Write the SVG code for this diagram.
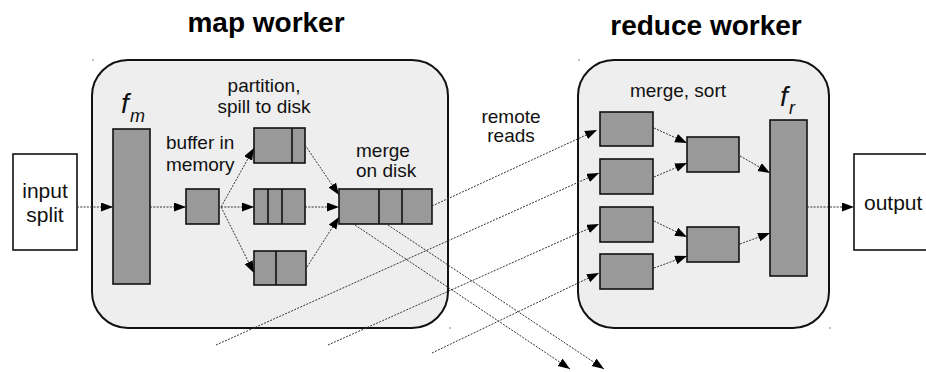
<svg xmlns="http://www.w3.org/2000/svg" width="926" height="372" viewBox="0 0 926 372">
  <defs>
    <marker id="arrow" markerUnits="userSpaceOnUse" markerWidth="13" markerHeight="10" refX="12" refY="4.5" orient="auto">
      <path d="M0,0 L12,4.5 L0,9 z" fill="#000"/>
    </marker>
    <style>
      .title { font-family: "Liberation Sans", Arial, sans-serif; font-weight: bold; font-size: 28px; fill: #000; }
      .lbl { font-family: "Liberation Sans", Arial, sans-serif; font-size: 19px; fill: #111; }
      .io { font-family: "Liberation Sans", Arial, sans-serif; font-size: 21px; fill: #111; }
      .fn { font-family: "Liberation Sans", Arial, sans-serif; font-style: italic; fill: #111; }
      .worker { fill: #eeeeee; stroke: #111; stroke-width: 2; }
      .blk { fill: #999999; stroke: #111; stroke-width: 1.6; }
      .div { stroke: #111; stroke-width: 1.6; }
      .iobox { fill: #ffffff; stroke: #111; stroke-width: 1.6; }
      .conn line, .conn path { stroke: #333; stroke-width: 1; stroke-dasharray: 2 1.3; fill: none; marker-end: url(#arrow); }
      .speck { fill: #777; }
    </style>
  </defs>

  <rect width="926" height="372" fill="#ffffff"/>

  <!-- titles -->
  <text class="title" x="266" y="32" text-anchor="middle">map worker</text>
  <text class="title" x="706" y="35" text-anchor="middle">reduce worker</text>

  <!-- worker containers -->
  <g id="map-worker">
    <rect class="worker" x="92" y="60" width="356" height="268" rx="36" ry="36"/>
  </g>
  <g id="reduce-worker">
    <rect class="worker" x="578" y="60" width="251" height="268" rx="36" ry="36"/>
  </g>

  <!-- corner specks -->
  <circle class="speck" cx="93" cy="60" r="0.8"/>
  <circle class="speck" cx="450" cy="328" r="0.8"/>
  <circle class="speck" cx="579" cy="60" r="0.8"/>
  <circle class="speck" cx="830" cy="328" r="0.8"/>

  <!-- input -->
  <g id="input-split">
    <rect class="iobox" x="13" y="154" width="64" height="96"/>
    <text class="io" x="45" y="198" text-anchor="middle">input</text>
    <text class="io" x="45" y="222" text-anchor="middle">split</text>
  </g>

  <!-- map function -->
  <g id="fm">
    <rect class="blk" x="113" y="129" width="37" height="155"/>
    <text class="fn" x="121" y="113" font-size="28">f</text>
    <text class="fn" x="130" y="122" font-size="18">m</text>
  </g>

  <!-- buffer -->
  <g id="buffer">
    <rect class="blk" x="186" y="189" width="33" height="35"/>
    <text class="lbl" x="166" y="149">buffer in</text>
    <text class="lbl" x="166" y="171">memory</text>
  </g>

  <!-- spill partitions -->
  <g id="spill-label">
    <text class="lbl" x="264" y="92" text-anchor="middle">partition,</text>
    <text class="lbl" x="264" y="113" text-anchor="middle">spill to disk</text>
  </g>
  <g id="spill-1">
    <rect class="blk" x="254" y="128" width="51" height="35"/>
    <line class="div" x1="292" y1="128" x2="292" y2="163"/>
  </g>
  <g id="spill-2">
    <rect class="blk" x="254" y="189" width="51" height="35"/>
    <line class="div" x1="268" y1="189" x2="268" y2="224"/>
    <line class="div" x1="282" y1="189" x2="282" y2="224"/>
  </g>
  <g id="spill-3">
    <rect class="blk" x="254" y="251" width="52" height="34"/>
    <line class="div" x1="276" y1="251" x2="276" y2="285"/>
  </g>

  <!-- merged map output -->
  <g id="merge-on-disk">
    <rect class="blk" x="339" y="189" width="93" height="35"/>
    <line class="div" x1="379" y1="189" x2="379" y2="224"/>
    <line class="div" x1="402" y1="189" x2="402" y2="224"/>
    <text class="lbl" x="356" y="157">merge</text>
    <text class="lbl" x="356" y="177">on disk</text>
  </g>

  <text class="lbl" x="511" y="123" text-anchor="middle" font-size="18">remote</text>
  <text class="lbl" x="511" y="142" text-anchor="middle" font-size="18">reads</text>

  <!-- reduce side -->
  <text class="lbl" x="678" y="97" text-anchor="middle">merge, sort</text>
  <g id="fetch-1"><rect class="blk" x="600" y="112" width="53" height="34"/></g>
  <g id="fetch-2"><rect class="blk" x="600" y="159" width="53" height="35"/></g>
  <g id="fetch-3"><rect class="blk" x="600" y="207" width="53" height="35"/></g>
  <g id="fetch-4"><rect class="blk" x="600" y="254" width="53" height="35"/></g>
  <g id="sort-1"><rect class="blk" x="687" y="137" width="52" height="35"/></g>
  <g id="sort-2"><rect class="blk" x="687" y="227" width="52" height="35"/></g>
  <g id="fr">
    <rect class="blk" x="770" y="120" width="37" height="156"/>
    <text class="fn" x="780" y="106" font-size="28">f</text>
    <text class="fn" x="789" y="114" font-size="18">r</text>
  </g>

  <!-- output -->
  <g id="output">
    <rect class="iobox" x="854" y="154" width="90" height="96"/>
    <text class="io" x="864" y="210">output</text>
  </g>

  <!-- connectors -->
  <g id="connectors" class="conn">
    <line x1="77" y1="207" x2="113" y2="207"/>
    <line x1="150" y1="207" x2="186" y2="207"/>
    <line x1="221" y1="207" x2="254" y2="148"/>
    <line x1="221" y1="207" x2="254" y2="207"/>
    <line x1="221" y1="207" x2="254" y2="273"/>
    <line x1="305" y1="145" x2="339" y2="195"/>
    <line x1="305" y1="207" x2="339" y2="207"/>
    <line x1="307" y1="267" x2="339" y2="217"/>

    <!-- shuffle: reads arriving from map outputs -->
    <line x1="432" y1="206" x2="597" y2="130"/>
    <line x1="216" y1="345" x2="599" y2="173"/>
    <line x1="328" y1="345" x2="599" y2="224"/>
    <line x1="432" y1="353" x2="599" y2="273"/>
    <!-- shuffle: reads leaving this map output -->
    <line x1="355" y1="225" x2="570" y2="369"/>
    <line x1="388" y1="225" x2="604" y2="369"/>

    <line x1="654" y1="128" x2="687" y2="143"/>
    <line x1="654" y1="177" x2="687" y2="163"/>
    <line x1="654" y1="221" x2="687" y2="237"/>
    <line x1="654" y1="268" x2="687" y2="256"/>
    <line x1="740" y1="156" x2="770" y2="173"/>
    <line x1="740" y1="244" x2="770" y2="233"/>
    <line x1="807" y1="207" x2="854" y2="207"/>
  </g>
</svg>
